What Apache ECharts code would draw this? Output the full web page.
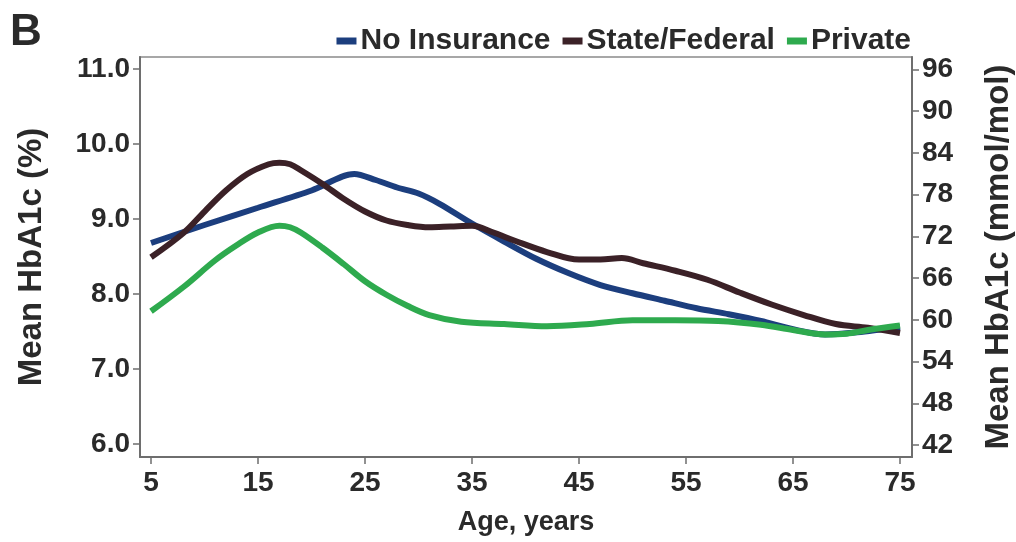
<!DOCTYPE html>
<html>
<head>
<meta charset="utf-8">
<script src="https://cdn.jsdelivr.net/npm/echarts@6/dist/echarts.min.js"></script>
<style>
  html, body { margin: 0; padding: 0; background: #fff; }
  #chart { width: 1016px; height: 542px; }
</style>
</head>
<body>
<div id="chart"></div>
<script>
// Mean HbA1c by age, split by insurance status
const seriesNames = ['No Insurance', 'State/Federal', 'Private'];

const noInsAges = [5, 10, 15, 20, 24, 26, 28, 30, 32, 35, 38, 41, 44, 47, 50, 53, 56, 59, 62, 65, 68, 71, 75];
const noInsVals = [8.68, 8.92, 9.15, 9.38, 9.60, 9.52, 9.42, 9.34, 9.20, 8.94, 8.70, 8.47, 8.28, 8.12, 8.01, 7.91, 7.81, 7.73, 7.64, 7.53, 7.46, 7.49, 7.56];

const stateAges = [5, 8, 10, 12, 14, 16, 17, 18, 19, 21, 23, 25, 27, 29, 31, 33, 35, 37, 39, 42, 45, 47, 49, 51, 54, 57, 60, 63, 66, 69, 72, 75];
const stateVals = [8.49, 8.81, 9.10, 9.38, 9.60, 9.73, 9.75, 9.73, 9.65, 9.47, 9.27, 9.10, 8.98, 8.92, 8.89, 8.90, 8.91, 8.82, 8.71, 8.56, 8.46, 8.46, 8.48, 8.41, 8.31, 8.19, 8.02, 7.86, 7.72, 7.60, 7.55, 7.48];

const privAges = [5, 8, 11, 13, 15, 17, 18, 19, 21, 23, 25, 27, 29, 31, 34, 38, 42, 46, 50, 54, 58, 62, 65, 68, 70, 72, 75];
const privVals = [7.77, 8.09, 8.45, 8.65, 8.82, 8.91, 8.89, 8.82, 8.62, 8.40, 8.17, 7.99, 7.84, 7.72, 7.63, 7.60, 7.57, 7.60, 7.65, 7.65, 7.64, 7.59, 7.52, 7.46, 7.47, 7.52, 7.58];

const ageTicks = [5, 15, 25, 35, 45, 55, 65, 75];
const pctTicks = [6, 7, 8, 9, 10, 11];
const mmolTicks = [42, 48, 54, 60, 66, 72, 78, 84, 90, 96];

const colors = ['#1c3e7e', '#3b2127', '#2eaa4e'];

const pair = (xs, ys) => xs.map((x, i) => [x, ys[i]]);

const labelFont = {
  fontFamily: 'Liberation Sans, Arial, sans-serif',
  fontWeight: 'bold',
  fontSize: 28,
  color: '#2a2a2a'
};
const axisLineStyle = { lineStyle: { color: '#6e6e6e', width: 2 } };
const tickStyle = { lineStyle: { color: '#6e6e6e', width: 1.5 } };

const chart = echarts.init(document.getElementById('chart'), null, { renderer: 'canvas' });

chart.setOption({
  backgroundColor: '#ffffff',
  animation: false,
  color: colors,
  graphic: [{
    type: 'text',
    left: 10,
    top: 11,
    style: {
      text: 'B',
      font: 'bold 44px "Liberation Sans", Arial, sans-serif',
      fill: '#2a2a2a'
    }
  }],
  legend: {
    data: seriesNames,
    right: 100,
    top: 21,
    itemWidth: 20,
    itemHeight: 7,
    itemGap: 12,
    icon: 'rect',
    textStyle: Object.assign({}, labelFont, { fontSize: 30, padding: [0, 0, 0, -1] })
  },
  grid: {
    left: 140,
    right: 104,
    top: 57,
    bottom: 85,
    show: true,
    borderColor: '#8a8a8a',
    borderWidth: 1.5,
    containLabel: false,
    outerBoundsMode: 'none'
  },
  xAxis: {
    type: 'value',
    min: 3.97,
    max: 76.12,
    name: 'Age, years',
    nameLocation: 'middle',
    nameGap: 52,
    nameTextStyle: Object.assign({}, labelFont, { fontSize: 27 }),
    splitLine: { show: false },
    axisLine: axisLineStyle,
    axisTick: Object.assign({ show: true, length: 7, customValues: ageTicks }, tickStyle),
    axisLabel: Object.assign({ customValues: ageTicks, margin: 12 }, labelFont)
  },
  yAxis: [{
    type: 'value',
    min: 5.827,
    max: 11.16,
    position: 'left',
    name: 'Mean HbA1c (%)',
    nameLocation: 'middle',
    nameGap: 92,
    nameRotate: 90,
    nameTextStyle: Object.assign({}, labelFont, { fontSize: 33 }),
    splitLine: { show: false },
    axisLine: Object.assign({ show: true }, axisLineStyle),
    axisTick: Object.assign({ show: true, length: 7, customValues: pctTicks }, tickStyle),
    axisLabel: Object.assign({
      customValues: pctTicks,
      margin: 10,
      formatter: v => v.toFixed(1)
    }, labelFont)
  }, {
    type: 'value',
    min: 40.27,
    max: 97.8,
    position: 'right',
    name: 'Mean HbA1c (mmol/mol)',
    nameLocation: 'middle',
    nameGap: 70,
    nameRotate: 90,
    nameTextStyle: Object.assign({}, labelFont, { fontSize: 33 }),
    splitLine: { show: false },
    axisLine: Object.assign({ show: true }, axisLineStyle),
    axisTick: Object.assign({ show: true, length: 7, customValues: mmolTicks }, tickStyle),
    axisLabel: Object.assign({ customValues: mmolTicks, margin: 10 }, labelFont)
  }],
  series: [{
    name: seriesNames[0],
    type: 'line',
    smooth: 0.3,
    showSymbol: false,
    data: pair(noInsAges, noInsVals),
    lineStyle: { width: 6, color: colors[0] },
    z: 2
  }, {
    name: seriesNames[1],
    type: 'line',
    smooth: 0.35,
    showSymbol: false,
    data: pair(stateAges, stateVals),
    lineStyle: { width: 6, color: colors[1] },
    z: 3
  }, {
    name: seriesNames[2],
    type: 'line',
    smooth: 0.35,
    showSymbol: false,
    data: pair(privAges, privVals),
    lineStyle: { width: 6, color: colors[2] },
    z: 4
  }]
});
</script>
</body>
</html>
